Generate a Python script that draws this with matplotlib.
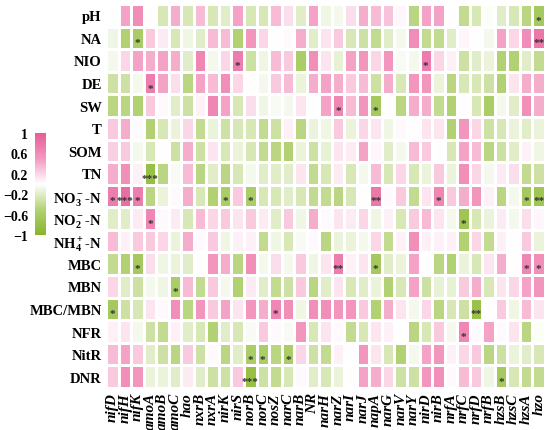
import matplotlib
matplotlib.use("Agg")
import matplotlib.pyplot as plt
import numpy as np
from matplotlib.colors import LinearSegmentedColormap

plt.rcParams["font.family"] = ["Liberation Serif", "DejaVu Serif"]
plt.rcParams["font.weight"] = "bold"
plt.rcParams["mathtext.fontset"] = "custom"
plt.rcParams["mathtext.rm"] = "Liberation Serif:bold"
plt.rcParams["mathtext.bf"] = "Liberation Serif:bold"
plt.rcParams["mathtext.it"] = "Liberation Serif:italic:bold"

row_labels = ["pH", "NA", "NIO", "DE", "SW", "T", "SOM", "TN",
              r"NO$_3^-$-N", r"NO$_2^-$-N", r"NH$_4^+$-N",
              "MBC", "MBN", "MBC/MBN", "NFR", "NitR", "DNR"]

genes = ["nifD", "nifH", "nifK", "amoA", "amoB", "amoC", "hao", "nxrB", "nxrA",
         "nirK", "nirS", "norB", "norC", "nosZ", "narC", "narB", "NR", "narH",
         "narZ", "narI", "narJ", "napA", "narG", "narV", "narY", "nirD", "nirB",
         "nrfA", "nrfC", "nrfD", "nrfB", "hzsB", "hzsC", "hzsA", "hzo"]

r_pH = [0.0, 0.45, 0.6, 0.0, -0.26, 0.4, -0.26, 0.33, -0.26, -0.2, 0.45, -0.26, -0.26, 0.33, 0.16, -0.2, 0.45, -0.1,
        -0.07, 0.16, 0.4, 0.33, 0.29, 0.04, -0.45, 0.45, 0.45, 0.0, -0.4, -0.26, -0.03, -0.2, -0.26, -0.45, -0.65]
r_NA = [-0.1, -0.52, -0.6, 0.26, 0.1, -0.26, -0.1, -0.2, 0.33, 0.33, -0.52, 0.52, 0.2, 0.0, 0.03, 0.4, -0.2, 0.13,
        0.26, -0.26, -0.33, -0.4, -0.2, -0.07, 0.6, -0.4, -0.4, -0.2, 0.04, 0.0, -0.07, 0.45, 0.2, 0.6, 0.78]
r_NIO = [-0.07, 0.2, 0.45, 0.4, 0.45, 0.4, -0.2, 0.65, -0.07, 0.2, 0.72, -0.33, -0.1, 0.33, 0.26, -0.58, 0.58, 0.13,
         -0.16, 0.45, 0.52, 0.2, 0.52, -0.04, -0.07, 0.72, 0.2, 0.07, -0.33, -0.2, -0.13, -0.52, -0.52, -0.2, -0.4]
r_DE = [-0.33, -0.33, -0.07, 0.72, 0.45, 0.16, -0.45, 0.45, 0.33, 0.58, 0.2, 0.0, -0.07, 0.26, 0.33, -0.13, 0.4, 0.45,
        0.4, 0.26, 0.33, -0.33, 0.4, -0.26, 0.52, 0.52, -0.13, -0.45, -0.26, -0.26, -0.33, -0.52, 0.13, 0.4, 0.4]
r_SW = [-0.45, -0.45, -0.52, 0.26, 0.03, -0.2, -0.33, 0.07, 0.65, 0.45, -0.26, 0.16, -0.1, -0.04, -0.07, 0.13, 0.0, 0.45,
        0.65, 0.33, 0.52, -0.65, 0.0, -0.45, 0.4, 0.4, -0.4, -0.52, 0.0, -0.26, -0.58, -0.07, -0.2, 0.58, 0.4]
r_T = [0.26, 0.4, 0.03, -0.52, -0.26, -0.13, 0.2, -0.4, -0.13, -0.33, -0.26, -0.26, -0.4, -0.33, 0.07, -0.45, -0.13, -0.1,
       0.26, -0.13, 0.2, 0.13, -0.1, 0.03, 0.0, 0.13, 0.13, -0.52, 0.52, 0.2, -0.33, -0.26, -0.13, -0.2, -0.13]
r_SOM = [0.23, 0.26, -0.07, -0.26, 0.0, -0.33, 0.4, -0.33, 0.13, -0.26, -0.13, -0.26, -0.4, -0.45, -0.52, -0.13, -0.33, -0.16,
         0.13, 0.1, 0.45, 0.04, -0.2, -0.07, 0.33, 0.26, 0.0, -0.26, 0.45, 0.33, -0.45, -0.33, -0.2, 0.07, -0.1]
r_TN = [0.4, 0.58, 0.07, -0.8, -0.45, -0.04, 0.33, -0.45, -0.2, -0.45, -0.26, -0.07, -0.2, -0.2, -0.2, 0.13, -0.4, -0.26,
        0.1, -0.26, -0.07, 0.33, -0.26, 0.2, -0.26, -0.13, 0.26, -0.13, 0.58, 0.2, -0.07, 0.1, 0.16, -0.4, -0.33]
r_NO3 = [0.72, 0.85, 0.72, -0.45, -0.13, 0.03, 0.4, -0.26, -0.52, -0.58, 0.26, -0.58, -0.26, -0.26, -0.2, -0.26, -0.4, -0.4,
         -0.45, -0.26, 0.0, 0.78, 0.03, 0.26, -0.4, 0.13, 0.65, 0.26, 0.4, 0.52, 0.07, -0.45, -0.07, -0.65, -0.72]
r_NO2 = [-0.2, -0.2, 0.1, 0.65, 0.03, 0.1, -0.26, 0.33, 0.2, 0.26, 0.13, 0.26, 0.1, -0.2, 0.26, -0.1, 0.4, 0.03,
         0.13, 0.1, 0.2, -0.1, 0.07, -0.26, 0.26, 0.33, 0.13, -0.07, -0.72, -0.26, -0.13, 0.1, -0.07, 0.16, 0.04]
r_NH4 = [0.33, 0.07, 0.26, 0.26, 0.2, -0.13, 0.4, 0.03, 0.26, -0.1, 0.07, 0.07, -0.4, -0.1, -0.26, -0.04, 0.03, -0.45,
         -0.13, -0.13, -0.07, 0.2, -0.4, 0.07, 0.58, 0.07, 0.07, 0.07, -0.52, 0.2, -0.4, 0.07, 0.0, 0.26, -0.13]
r_MBC = [-0.4, -0.52, -0.65, 0.16, -0.1, -0.13, -0.2, 0.0, 0.52, 0.4, -0.45, 0.58, -0.07, 0.16, -0.07, 0.26, -0.1, 0.13,
         0.72, 0.07, 0.13, -0.65, -0.2, -0.13, 0.45, 0.0, -0.45, -0.52, -0.13, -0.26, 0.13, 0.4, 0.0, 0.65, 0.58]
r_MBN = [0.2, -0.2, -0.33, -0.07, -0.1, -0.58, 0.33, -0.4, 0.26, -0.07, -0.52, 0.1, -0.2, -0.4, -0.33, 0.26, -0.45, -0.2,
         0.13, -0.26, -0.2, -0.13, -0.52, -0.26, 0.45, -0.33, -0.16, -0.16, 0.26, 0.4, -0.26, 0.13, 0.2, 0.45, 0.52]
r_ratio = [-0.65, -0.33, -0.26, 0.13, 0.03, 0.58, -0.45, 0.52, 0.26, 0.45, 0.13, 0.52, 0.4, 0.65, 0.58, -0.1, 0.58, 0.58,
           0.52, 0.52, 0.26, -0.52, 0.4, 0.13, -0.07, 0.2, -0.45, -0.26, -0.33, -0.78, 0.0, 0.26, -0.1, 0.33, 0.13]
r_NFR = [0.07, 0.13, -0.07, -0.33, -0.4, 0.07, -0.2, -0.26, -0.52, -0.2, -0.26, -0.04, 0.26, 0.03, -0.04, 0.52, -0.26, 0.13,
         0.03, -0.4, -0.26, 0.13, 0.07, 0.0, -0.45, -0.26, 0.26, -0.07, 0.65, 0.03, 0.45, 0.03, 0.13, -0.45, -0.03]
r_NitR = [0.33, 0.45, 0.26, -0.2, -0.33, -0.45, 0.26, -0.33, 0.03, -0.45, -0.2, -0.58, -0.58, -0.45, -0.58, 0.2, -0.33, -0.4,
          0.07, 0.0, 0.52, 0.13, -0.26, -0.52, -0.07, 0.45, 0.52, 0.07, 0.2, 0.26, -0.45, -0.33, -0.13, -0.2, -0.26]
r_DNR = [0.26, 0.58, 0.52, -0.13, -0.13, -0.2, 0.1, -0.2, -0.33, -0.33, 0.26, -0.8, -0.33, -0.4, -0.26, 0.03, -0.2, -0.26,
         -0.13, 0.0, 0.45, 0.4, 0.2, -0.33, -0.33, 0.52, 0.58, 0.03, 0.33, 0.26, -0.1, -0.65, -0.26, -0.4, -0.4]

# (row, column, stars)
signif = [(0, 34, "*"), (1, 2, "*"), (1, 34, "**"), (2, 10, "*"), (2, 25, "*"),
          (3, 3, "*"), (4, 18, "*"), (4, 21, "*"), (7, 3, "***"),
          (8, 0, "*"), (8, 1, "***"), (8, 2, "*"), (8, 9, "*"), (8, 11, "*"),
          (8, 21, "**"), (8, 26, "*"), (8, 33, "*"), (8, 34, "**"),
          (9, 3, "*"), (9, 28, "*"),
          (11, 2, "*"), (11, 18, "**"), (11, 21, "*"), (11, 33, "*"), (11, 34, "*"),
          (12, 5, "*"), (13, 0, "*"), (13, 13, "*"), (13, 29, "**"), (14, 28, "*"),
          (15, 11, "*"), (15, 12, "*"), (15, 14, "*"), (16, 11, "***"), (16, 31, "*")]

data = np.array([r_pH, r_NA, r_NIO, r_DE, r_SW, r_T, r_SOM, r_TN, r_NO3, r_NO2,
                 r_NH4, r_MBC, r_MBN, r_ratio, r_NFR, r_NitR, r_DNR])

cmap = LinearSegmentedColormap.from_list(
    "gp", [(0.0, "#86B52A"), (0.25, "#B3D275"), (0.5, "#FFFFFF"),
           (0.75, "#F399C0"), (1.0, "#E65C97")])

fig = plt.figure(figsize=(5.5, 4.31), dpi=100)
ax = fig.add_axes([0.1927, 0.0974, 0.7982, 0.891])
mesh = ax.pcolormesh(data, cmap=cmap, vmin=-1, vmax=1, edgecolors="white", linewidth=0.75)
ax.set_xlim(0, len(genes))
ax.set_ylim(len(row_labels), 0)
for s in ax.spines.values():
    s.set_visible(False)

ax.set_xticks(np.arange(len(genes)) + 0.5)
ax.set_xticklabels(genes, rotation=90, fontstyle="italic", fontweight="bold", fontsize=11)
ax.set_yticks(np.arange(len(row_labels)) + 0.5)
ax.set_yticklabels(row_labels, fontweight="bold", fontsize=10.5)
ax.tick_params(length=0, pad=3)

for r, c, s in signif:
    ax.text(c + 0.5, r + 0.72, s, ha="center", va="center", fontsize=8, color="#333333")

cax = fig.add_axes([0.0636, 0.4524, 0.0195, 0.237])
cb = fig.colorbar(mesh, cax=cax)
cb.outline.set_visible(False)
cb.set_ticks([1, 0.6, 0.2, -0.2, -0.6, -1])
cb.set_ticklabels(["1", "0.6", "0.2", "\u22120.2", "\u22120.6", "\u22121"])
cax.yaxis.set_ticks_position("left")
cax.tick_params(length=0, pad=5, labelsize=10)

fig.savefig("out.png", dpi=100)
